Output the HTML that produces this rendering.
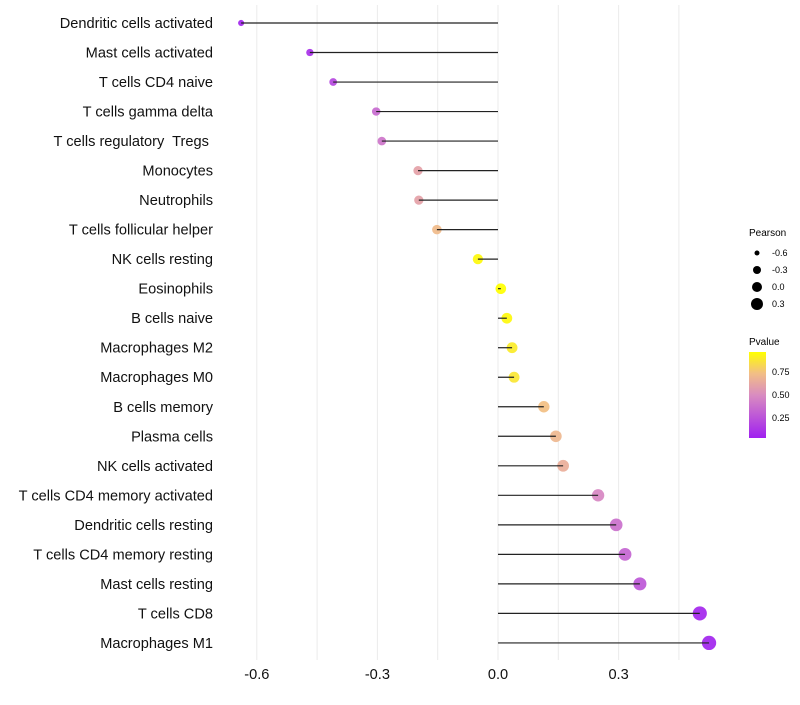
<!DOCTYPE html>
<html><head><meta charset="utf-8"><style>
body{margin:0;background:#fff;font-family:"Liberation Sans",sans-serif}
</style></head><body>
<svg id="chart" width="800" height="700" xmlns="http://www.w3.org/2000/svg">
<defs><linearGradient id="pg" x1="0" y1="1" x2="0" y2="0">
<stop offset="0" stop-color="#A020F0"/><stop offset="0.5" stop-color="#D98CC0"/><stop offset="0.75" stop-color="#F2BE86"/><stop offset="1" stop-color="#FFFF00"/></linearGradient></defs>
<g id="grid"></g><g id="points"></g><g id="stems"></g><g id="labels"></g>
<g font-size="9">
<text x="749" y="236" font-size="10">Pearson</text>
<circle cx="757" cy="253" r="2.5"/><text x="772" y="256">-0.6</text>
<circle cx="757" cy="270" r="4"/><text x="772" y="273">-0.3</text>
<circle cx="757" cy="287" r="5"/><text x="772" y="290">0.0</text>
<circle cx="757" cy="304" r="6"/><text x="772" y="307">0.3</text>
</g>
<g font-size="9">
<text x="749" y="345" font-size="10">Pvalue</text>
<rect x="749" y="352" width="17" height="86" fill="url(#pg)"/>
<text x="772" y="375">0.75</text><text x="772" y="398">0.50</text><text x="772" y="421">0.25</text>
</g>
</svg>
<script>
const categories=["Dendritic cells activated","Mast cells activated","T cells CD4 naive","T cells gamma delta","T cells regulatory  Tregs ","Monocytes","Neutrophils","T cells follicular helper","NK cells resting","Eosinophils","B cells naive","Macrophages M2","Macrophages M0","B cells memory","Plasma cells","NK cells activated","T cells CD4 memory activated","Dendritic cells resting","T cells CD4 memory resting","Mast cells resting","T cells CD8","Macrophages M1"];
const pearson=[-0.639,-0.468,-0.41,-0.303,-0.289,-0.199,-0.197,-0.152,-0.05,0.007,0.022,0.035,0.04,0.114,0.144,0.162,0.249,0.294,0.316,0.353,0.502,0.525];
const pvalue=[0.05,0.1,0.2,0.35,0.4,0.6,0.6,0.72,0.95,0.97,0.95,0.9,0.88,0.74,0.7,0.66,0.48,0.38,0.33,0.27,0.06,0.05];
const xTicks=[-0.6,-0.3,0.0,0.3];
const xTickLabels=["-0.6","-0.3","0.0","0.3"];
const NS="http://www.w3.org/2000/svg";
const x=v=>498+v*402;
const y=i=>23+i*29.52;
const rad=v=>5.3+3.5*v;
function lerp(a,b,t){return Math.round(a+(b-a)*t);}
const stops=[[0,[160,32,240]],[0.5,[217,140,192]],[0.75,[242,190,134]],[1,[255,255,0]]];
function col(p){let t=(p-0.03)/(0.97-0.03);t=Math.max(0,Math.min(1,t));
for(let k=1;k<stops.length;k++){if(t<=stops[k][0]){const a=stops[k-1],b=stops[k],u=(t-a[0])/(b[0]-a[0]);
return `rgb(${lerp(a[1][0],b[1][0],u)},${lerp(a[1][1],b[1][1],u)},${lerp(a[1][2],b[1][2],u)})`;}}return "rgb(255,255,0)";}
function mk(tag,at,parent){const e=document.createElementNS(NS,tag);for(const k in at)e.setAttribute(k,at[k]);parent.appendChild(e);return e;}
const grid=document.getElementById('grid'),points=document.getElementById('points'),stems=document.getElementById('stems'),labels=document.getElementById('labels');
for(let k=-4;k<=3;k++){const v=k*0.15;const l=mk('line',{x1:x(v),x2:x(v),y1:5,y2:660,stroke:'#ebebeb','stroke-width':1},grid);

}
xTicks.forEach((v,i)=>{const t=mk('text',{x:x(v),y:679,'text-anchor':'middle','font-size':14.6,fill:'#111'},labels);t.textContent=xTickLabels[i];

});
categories.forEach((c,i)=>{
const t=mk('text',{x:213,y:y(i)+5,'text-anchor':'end','font-size':14.6,fill:'#111'},labels);t.textContent=c;
t.setAttribute('xml:space','preserve');t.style.whiteSpace='pre';


const p=mk('circle',{cx:x(pearson[i]),cy:y(i),r:rad(pearson[i]),fill:col(pvalue[i]),'fill-opacity':0.92},points);


const l=mk('line',{x1:x(0),x2:x(pearson[i]),y1:y(i),y2:y(i),stroke:'#222','stroke-width':1.2},stems);


});
</script>
</body></html>
